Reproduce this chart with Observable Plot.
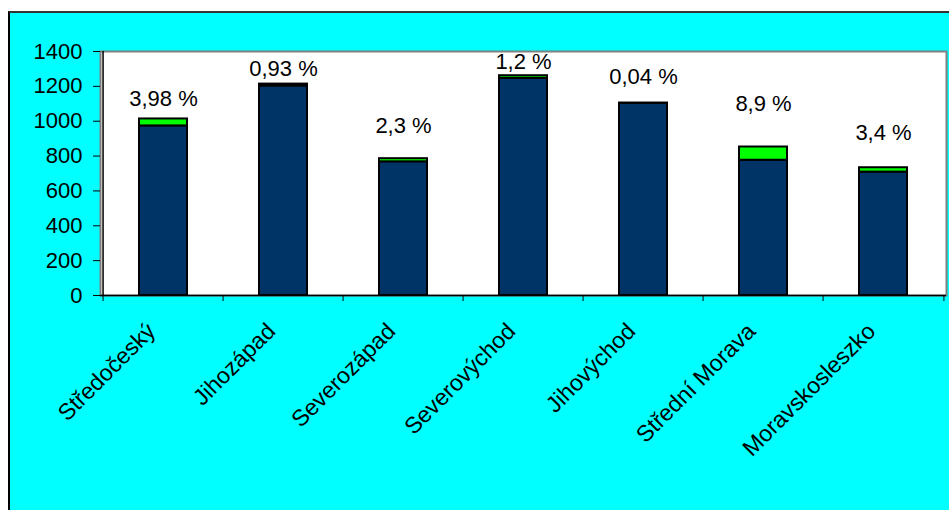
<!DOCTYPE html>
<html>
<head>
<meta charset="utf-8">
<script src="https://cdn.jsdelivr.net/npm/d3@7"></script>
<script src="https://cdn.jsdelivr.net/npm/@observablehq/plot@0.6"></script>
<style>
  html, body { margin: 0; padding: 0; background: #ffffff; }
  #chart { position: absolute; left: 8px; top: 11px; border-left: 2px solid #000; border-top: 2px solid #333; background: #00FFFF; }
</style>
</head>
<body>
<div id="chart"></div>
<script>
const categories = ["Středočeský", "Jihozápad", "Severozápad", "Severovýchod", "Jihovýchod", "Střední Morava", "Moravskosleszko"];
const baseValues = [973, 1202, 767, 1246, 1103, 776, 708];
const increaseValues = [40, 11, 18, 15, 0.4, 76, 25];
const percentLabels = ["3,98 %", "0,93 %", "2,3 %", "1,2 %", "0,04 %", "8,9 %", "3,4 %"];
const labelLevels = [1129, 1302, 975, 1340, 1256, 1100, 935];
const yTicks = [0, 200, 400, 600, 800, 1000, 1200, 1400];

const rows = [];
categories.forEach((c, i) => {
  rows.push({cat: c, part: "base", value: baseValues[i]});
  rows.push({cat: c, part: "increase", value: increaseValues[i]});
});
const labels = categories.map((c, i) => ({cat: c, text: percentLabels[i], level: labelLevels[i]}));

const W = 939, H = 497;
const mL = 90, mR = 3, mT = 38, mB = 215;
const step = (W - mL - mR) / categories.length;
const font = "Liberation Sans, Arial, sans-serif";

const chart = Plot.plot({
  width: W,
  height: H,
  marginLeft: mL,
  marginRight: mR,
  marginTop: mT,
  marginBottom: mB,
  style: {background: "transparent", fontFamily: font, fontSize: "22px", color: "#000", overflow: "visible"},
  x: {domain: categories, paddingInner: 0.6, paddingOuter: 0.3, align: 0.5, label: null},
  y: {domain: [0, 1400], label: null},
  color: {domain: ["base", "increase"], range: ["#003366", "#00FF00"]},
  marks: [
    Plot.frame({fill: "white", stroke: "#808080", strokeWidth: 2}),
    // category boundary ticks
    Plot.axisX({tickSize: 6, text: null, dx: -step / 2, stroke: "#000", label: null}),
    Plot.axisX({ticks: [categories[categories.length - 1]], tickSize: 6, text: null, dx: step / 2, stroke: "#000", label: null}),
    // category labels
    Plot.axisX({tickSize: 0, tickRotate: -45, tickPadding: 32, dx: -12, fontSize: 23, label: null}),
    Plot.axisY({ticks: yTicks, tickFormat: d => String(d), tickSize: 7, tickPadding: 11, fontSize: 22, label: null, stroke: "#000"}),
    Plot.barY(rows, Plot.stackY({x: "cat", y: "value", fill: "part", stroke: "#000", strokeWidth: 2, order: null})),
    Plot.ruleY([0], {stroke: "#000", strokeWidth: 1.5}),
    Plot.ruleX([categories[0]], {y1: 0, y2: 1400, dx: -step / 2, stroke: "#000", strokeWidth: 1.5}),
    Plot.text(labels, {x: "cat", y: "level", text: "text", fontSize: 22, fill: "#000"})
  ]
});
document.getElementById("chart").appendChild(chart);
</script>
</body>
</html>
